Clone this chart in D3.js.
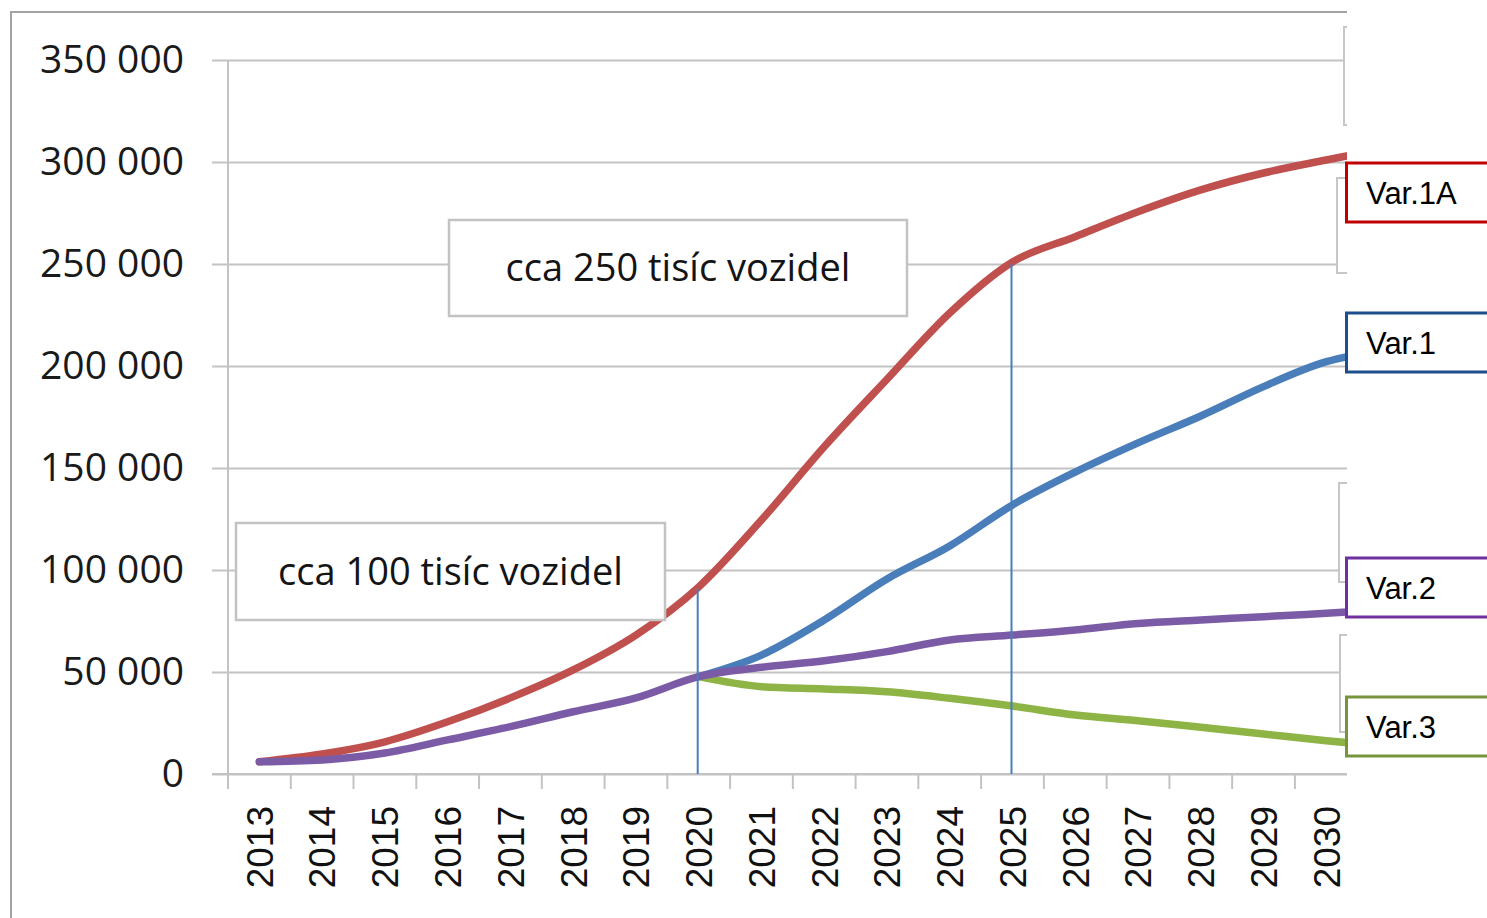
<!DOCTYPE html>
<html>
<head>
<meta charset="utf-8">
<script src="https://cdn.jsdelivr.net/npm/d3@7"></script>
<style>
    html, body { margin: 0; padding: 0; background: #fff; }
    svg { display: block; }
</style>
</head>
<body>
<div id="chart"></div>
<script>
// Years on the x axis (2031 only shows as the cut-off continuation at the right edge)
const years = ['2013', '2014', '2015', '2016', '2017', '2018', '2019', '2020', '2021', '2022',
               '2023', '2024', '2025', '2026', '2027', '2028', '2029', '2030', '2031'];
const yTicks = [0, 50000, 100000, 150000, 200000, 250000, 300000, 350000];

// Series values
const var1A = [6000, 9800, 15800, 25600, 37300, 51000, 68100, 91700, 124500, 160400,
               193500, 226000, 251000, 263400, 275600, 286300, 294600, 301000, 307000];
const var1  = [null, null, null, null, null, null, null, 47700, 58300, 75500,
               95600, 111800, 131900, 148000, 162300, 175500, 189900, 202100, 208000];
const var2  = [6000, 6900, 10300, 16700, 23200, 30500, 37300, 47700, 52300, 55500,
               60000, 65700, 68100, 70600, 73800, 75500, 77100, 78800, 80500];
const var3  = [null, null, null, null, null, null, null, 47700, 42800, 41700,
               40300, 37100, 33300, 28900, 26100, 22900, 19600, 16300, 13500];

const markerYears = ['2020', '2025'];
const seriesNames = ['Var.1A', 'Var.1', 'Var.2', 'Var.3'];
const notes = ['cca 250 tisíc vozidel', 'cca 100 tisíc vozidel'];

document.addEventListener('DOMContentLoaded', function() {
    drawChart();
});

function drawChart() {
    const W = 1487, H = 918;
    const left = 228, band = 62.76, top = 60, bottom = 774;
    const cutX = 1347;

    const svg = d3.select('#chart').append('svg')
        .attr('width', W)
        .attr('height', H)
        .style('font-family', '"Open Sans", sans-serif');

    svg.append('rect').attr('width', W).attr('height', H).attr('fill', '#fff');

    // the original picture is cropped at the right, clip everything there
    svg.append('clipPath').attr('id', 'cut')
        .append('rect').attr('x', 0).attr('y', 0).attr('width', cutX).attr('height', H);

    const g = svg.append('g').attr('clip-path', 'url(#cut)');

    const x = d3.scaleBand()
        .domain(years)
        .range([left, left + band * years.length]);

    const y = d3.scaleLinear()
        .domain([0, 350000])
        .range([bottom, top]);

    const cx = d => x(d) + x.bandwidth() / 2;

    // outer frame of the chart
    g.append('rect')
        .attr('x', 11).attr('y', 12)
        .attr('width', 1500).attr('height', 1000)
        .attr('fill', 'none')
        .attr('stroke', '#a3a3a3')
        .attr('stroke-width', 2);

    // gridlines + y labels
    const yAxis = g.append('g')
        .attr('transform', `translate(${left},0)`)
        .call(d3.axisLeft(y)
            .tickValues(yTicks)
            .tickSize(-(cutX - left + 5))
            .tickPadding(44)
            .tickFormat(d => d3.format(',')(d).replace(/,/g, ' ')));
    yAxis.select('.domain').remove();
    yAxis.selectAll('.tick line')
        .attr('x1', -16)
        .attr('stroke', '#c3c3c3')
        .attr('stroke-width', 2);
    yAxis.selectAll('.tick text')
        .attr('fill', '#1a1a1a')
        .style('font-size', '39px')
        .style('font-family', '"Open Sans", sans-serif');

    // y axis line
    g.append('line')
        .attr('x1', left).attr('x2', left)
        .attr('y1', top).attr('y2', bottom + 15)
        .attr('stroke', '#c3c3c3').attr('stroke-width', 2);

    // x axis with ticks between categories
    const xAxis = g.append('g')
        .attr('transform', `translate(0,${bottom})`)
        .call(d3.axisBottom(x).tickSize(0).tickFormat(''));
    xAxis.select('.domain')
        .attr('d', `M${left - 16},0H${cutX + 20}`)
        .attr('stroke', '#c3c3c3').attr('stroke-width', 2);

    g.append('g').selectAll('line')
        .data(years.concat(['end']))
        .join('line')
        .attr('x1', (d, i) => left + i * x.bandwidth())
        .attr('x2', (d, i) => left + i * x.bandwidth())
        .attr('y1', bottom).attr('y2', bottom + 15)
        .attr('stroke', '#c3c3c3').attr('stroke-width', 2);

    g.append('g').selectAll('text')
        .data(years)
        .join('text')
        .attr('transform', d => `translate(${cx(d)},${bottom + 32}) rotate(-90)`)
        .attr('text-anchor', 'end')
        .attr('dy', '0.36em')
        .style('font-family', '"Liberation Sans", Arial, sans-serif')
        .style('font-size', '37px')
        .attr('fill', '#111')
        .text(d => d);

    // grey callout boxes cut off at the right edge
    const greyBoxes = [[1344, 27, 98], [1337, 178, 95], [1339, 483, 99], [1340, 635, 97]];
    g.append('g').selectAll('rect')
        .data(greyBoxes)
        .join('rect')
        .attr('x', d => d[0]).attr('y', d => d[1])
        .attr('width', 150).attr('height', d => d[2])
        .attr('fill', '#fff')
        .attr('stroke', '#c6c6c6').attr('stroke-width', 2);

    // lines
    const line = d3.line()
        .defined(d => d.v !== null)
        .x(d => cx(d.year))
        .y(d => y(d.v))
        .curve(d3.curveMonotoneX);

    const series = [
        { values: var1A, color: '#c0504d' },
        { values: var1,  color: '#4a7ebb' },
        { values: var3,  color: '#8db445' },
        { values: var2,  color: '#7b5ba6' }
    ];

    g.append('g').selectAll('path')
        .data(series)
        .join('path')
        .attr('d', s => line(s.values.map((v, i) => ({ year: years[i], v: v }))))
        .attr('fill', 'none')
        .attr('stroke', s => s.color)
        .attr('stroke-width', 7.5)
        .attr('stroke-linecap', 'round')
        .attr('stroke-linejoin', 'round');

    // vertical marker lines under Var.1A
    g.append('g').selectAll('line')
        .data(markerYears)
        .join('line')
        .attr('x1', d => cx(d) - 1).attr('x2', d => cx(d) - 1)
        .attr('y1', d => y(var1A[years.indexOf(d)]) + 2)
        .attr('y2', y(0))
        .attr('stroke', '#4a7ebb')
        .attr('stroke-width', 2);

    // text notes in grey boxes
    const noteBoxes = [
        { text: notes[0], x: 449, y: 220, w: 458, h: 96 },
        { text: notes[1], x: 236, y: 523, w: 429, h: 97 }
    ];
    const nb = g.append('g').selectAll('g')
        .data(noteBoxes)
        .join('g');
    nb.append('rect')
        .attr('x', d => d.x).attr('y', d => d.y)
        .attr('width', d => d.w).attr('height', d => d.h)
        .attr('fill', '#fff')
        .attr('stroke', '#c3c3c3').attr('stroke-width', 2.5);
    nb.append('text')
        .attr('x', d => d.x + d.w / 2)
        .attr('y', d => d.y + d.h / 2)
        .attr('dy', '0.35em')
        .attr('text-anchor', 'middle')
        .style('font-size', '38px')
        .attr('fill', '#141414')
        .text(d => d.text);

    // coloured series labels at the right
    const labels = [
        { name: seriesNames[0], top: 163, color: '#c00000' },
        { name: seriesNames[1], top: 313, color: '#1c4f8c' },
        { name: seriesNames[2], top: 558, color: '#7030a0' },
        { name: seriesNames[3], top: 697, color: '#77933c' }
    ];
    const lb = svg.append('g').selectAll('g')
        .data(labels)
        .join('g');
    lb.append('rect')
        .attr('x', 1346.5).attr('y', d => d.top)
        .attr('width', 200).attr('height', 59)
        .attr('fill', '#fff')
        .attr('stroke', d => d.color)
        .attr('stroke-width', 3);
    lb.append('text')
        .attr('x', 1366)
        .attr('y', d => d.top + 29.5)
        .attr('dy', '0.36em')
        .style('font-family', '"Liberation Sans", Arial, sans-serif')
        .style('font-size', '31px')
        .attr('fill', '#000')
        .text(d => d.name);
}
</script>
</body>
</html>
